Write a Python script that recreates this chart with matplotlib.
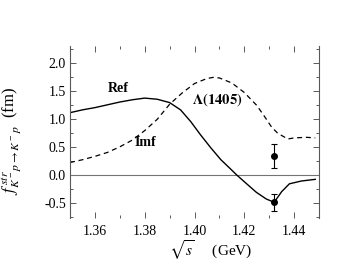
import matplotlib
matplotlib.use("Agg")
import matplotlib.pyplot as plt
from matplotlib.ticker import MultipleLocator, FormatStrFormatter

plt.rcParams['font.family'] = ['Liberation Serif', 'DejaVu Serif']
plt.rcParams['mathtext.fontset'] = 'stix'
plt.rcParams['axes.unicode_minus'] = False

# Re f (solid)
re_s = [1.350, 1.355, 1.360, 1.365, 1.370, 1.375, 1.380, 1.385, 1.390, 1.3944,
        1.3985, 1.4025, 1.4066, 1.4106, 1.4146, 1.4169, 1.4207, 1.4248, 1.4288,
        1.4320, 1.4350, 1.4381, 1.4429, 1.4485]
re_f = [1.11, 1.16, 1.20, 1.25, 1.30, 1.34, 1.37, 1.35, 1.29, 1.16,
        0.95, 0.71, 0.48, 0.27, 0.10, 0.00, -0.15, -0.31, -0.43,
        -0.49, -0.30, -0.16, -0.11, -0.08]

# Im f (dashed)
im_s = [1.350, 1.355, 1.360, 1.365, 1.370, 1.375, 1.380, 1.385, 1.390, 1.395,
        1.400, 1.405, 1.4075, 1.410, 1.415, 1.420, 1.425, 1.428, 1.431, 1.4335,
        1.4375, 1.440, 1.445, 1.4485]
im_f = [0.22, 0.27, 0.33, 0.40, 0.50, 0.62, 0.79, 0.99, 1.26, 1.46,
        1.63, 1.72, 1.74, 1.73, 1.64, 1.47, 1.24, 1.05, 0.85, 0.74,
        0.64, 0.66, 0.67, 0.66]

# data points
pt_s = [1.4321, 1.4321]
pt_f = [0.34, -0.49]
pt_err = [0.21, 0.15]

labels = ["Ref", "Imf", r"$\mathbf{\Lambda(1405)}$"]

fig = plt.figure(figsize=(3.54, 2.65), dpi=100)
ax = fig.add_axes([70/354, 1-218/265, (319-70)/354, (218-46)/265])

ax.axhline(0, color='0.45', lw=0.8)
ax.plot(re_s, re_f, color='black', lw=1.0)
ax.plot(im_s, im_f, color='black', lw=0.9, ls=(0, (4, 3)))
ax.errorbar(pt_s, pt_f, yerr=pt_err, fmt='o', color='black', ms=4,
            capsize=2.5, elinewidth=0.8, capthick=0.8)

ax.text(1.3694, 1.54, labels[0], fontsize=10, fontweight='bold', ha='center', va='center')
ax.text(1.3803, 0.58, labels[1], fontsize=10, fontweight='bold', ha='center', va='center')
ax.text(1.4093, 1.34, labels[2], fontsize=10.5, ha='center', va='center')

ax.set_xlim(1.35, 1.45)
ax.set_ylim(-0.77, 2.3)
ax.xaxis.set_major_locator(MultipleLocator(0.02))
ax.xaxis.set_minor_locator(MultipleLocator(0.01))
ax.yaxis.set_major_locator(MultipleLocator(0.5))
ax.yaxis.set_minor_locator(MultipleLocator(0.25))
ax.xaxis.set_major_formatter(FormatStrFormatter('%.2f'))
ax.yaxis.set_major_formatter(FormatStrFormatter('%.1f'))

ax.spines['top'].set_visible(False)
ax.spines['bottom'].set_visible(False)
for sp in ['left', 'right']:
    ax.spines[sp].set_color('0.35')
    ax.spines[sp].set_linewidth(0.8)

ax.tick_params(which='both', direction='in', top=True, right=True,
               color='0.35', width=0.7, labelsize=10)
ax.tick_params(which='major', length=4.5)
ax.tick_params(which='minor', length=2.5)
ax.tick_params(axis='y', pad=3)
ax.tick_params(axis='x', pad=5)

ax.set_ylabel(r"$f^{\,str}_{K^-p\rightarrow K^-p}$  (fm)", fontsize=12, labelpad=2)
ax.yaxis.set_label_coords(-0.19, 0.45)
fig.text(211/354, 1-250/265, r"$\sqrt{s}$     (GeV)", fontsize=11, ha='center', va='center')

fig.savefig("out.png", dpi=100)
